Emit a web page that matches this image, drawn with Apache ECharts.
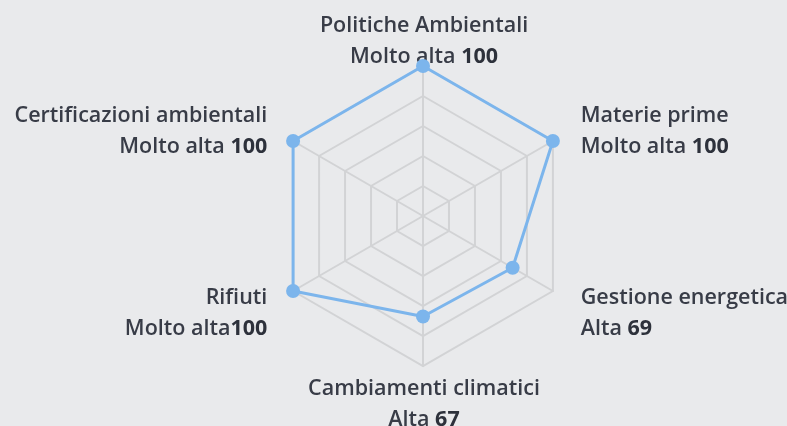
<!DOCTYPE html>
<html lang="it">
<head>
  <meta charset="UTF-8" />
  <title>Radar sostenibilità</title>
  <script src="https://cdn.jsdelivr.net/npm/echarts@6/dist/echarts.min.js"></script>
  <style>
    html, body { margin: 0; padding: 0; background: #e9eaec; }
    #chart { width: 787px; height: 426px; }
  </style>
</head>
<body>
  <div id="chart"></div>
  <script>
    // indicators in counterclockwise order, starting from the top
    const names = ['Politiche Ambientali', 'Certificazioni ambientali', 'Rifiuti', 'Cambiamenti climatici', 'Gestione energetica', 'Materie prime'];
    const levels = ['Molto alta ', 'Molto alta ', 'Molto alta', 'Alta ', 'Alta ', 'Molto alta '];
    const values = [100, 100, 100, 67, 69, 100];
    // where the label sits: top, side-up, side-down, bottom
    const spots = ['top', 'up', 'down', 'bottom', 'down', 'up'];

    const chart = echarts.init(document.getElementById('chart'));

    chart.setOption({
      backgroundColor: '#e9eaec',
      radar: {
        center: [423, 216],
        radius: 150,
        splitNumber: 5,
        nameGap: -6,
        indicator: names.map(n => ({ name: n, max: 100 })),
        axisName: {
          color: '#383c47',
          fontFamily: 'Open Sans',
          fontSize: 21.5,
          fontWeight: 600,
          padding: [0, 31, 0, 33],
          formatter: function (name) {
            const i = names.indexOf(name);
            let txt = '{n|' + name + '}\n{n|' + levels[i] + '}{b|' + values[i] + '}';
            // spacer lines nudge the block up or down
            if (spots[i] === 'up') txt = txt + '\n{g1| }';
            if (spots[i] === 'down') txt = '{g2| }\n' + txt;
            if (spots[i] === 'bottom') txt = '{g3| }\n' + txt;
            return txt;
          },
          rich: {
            n: { fontSize: 21.5, fontWeight: 600, color: '#383c47', fontFamily: 'Open Sans', lineHeight: 31 },
            b: { fontSize: 21.5, fontWeight: 700, color: '#2d313b', fontFamily: 'Open Sans', lineHeight: 31 },
            g1: { fontSize: 4, lineHeight: 26 },
            g2: { fontSize: 4, lineHeight: 50 },
            g3: { fontSize: 4, lineHeight: 13 }
          }
        },
        splitLine: { lineStyle: { color: '#d2d3d5', width: 2 } },
        axisLine: { lineStyle: { color: '#d2d3d5', width: 2 } },
        splitArea: { show: false }
      },
      series: [{
        type: 'radar',
        symbol: 'circle',
        symbolSize: 14,
        lineStyle: { color: '#7cb5ec', width: 3 },
        itemStyle: { color: '#7cb5ec' },
        data: [{ value: values }]
      }]
    });
  </script>
</body>
</html>
